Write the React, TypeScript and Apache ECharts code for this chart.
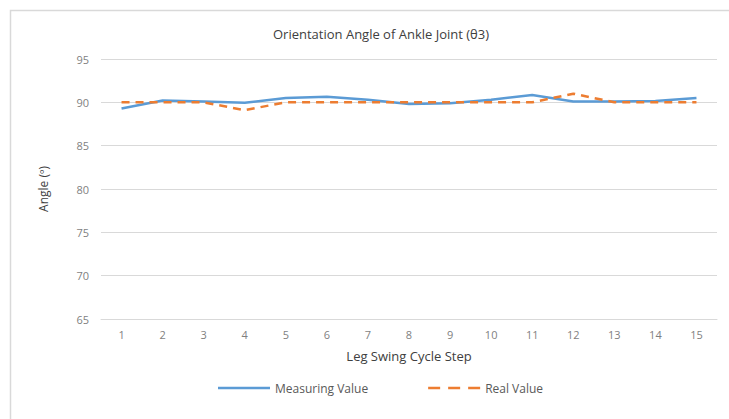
import React, { useEffect, useRef } from "react";
import * as echarts from "echarts";

const steps = ["1", "2", "3", "4", "5", "6", "7", "8", "9", "10", "11", "12", "13", "14", "15"];
const measuringValue = [89.3, 90.2, 90.1, 89.95, 90.5, 90.65, 90.3, 89.8, 89.9, 90.3, 90.85, 90.1, 90.1, 90.15, 90.5];
const realValue = [90, 90, 90, 89.1, 90, 90, 90, 90, 90, 90, 90, 91, 90, 90, 90];

const FONT = "'Open Sans', 'Noto Sans', sans-serif";

export default function App() {
  const ref = useRef<HTMLDivElement>(null);
  useEffect(() => {
    document.body.style.margin = "0";
    const chart = echarts.init(ref.current!, null, { renderer: "svg" });
    chart.setOption({
      animation: false,
      backgroundColor: "#ffffff",
      graphic: [
        {
          type: "rect",
          shape: { x: 10.5, y: 10.5, width: 740, height: 440 },
          style: { fill: "none", stroke: "#d9d9d9", lineWidth: 1.5 },
          silent: true,
        },
      ],
      title: {
        text: "Orientation Angle of Ankle Joint (θ3)",
        left: 376,
        textAlign: "center",
        top: 22,
        textStyle: { fontFamily: FONT, fontSize: 13, fontWeight: "normal", color: "#404040" },
      },
      grid: { left: 101, right: 12, top: 59, bottom: 100 },
      xAxis: {
        type: "category",
        data: steps,
        boundaryGap: true,
        name: "Leg Swing Cycle Step",
        nameLocation: "middle",
        nameGap: 30,
        nameTextStyle: { fontFamily: FONT, fontSize: 13, color: "#404040" },
        axisLine: { lineStyle: { color: "#d9d9d9", width: 1 } },
        axisTick: { show: false },
        axisLabel: { fontFamily: FONT, fontSize: 11, color: "#7f7f7f", margin: 10 },
      },
      yAxis: {
        type: "value",
        min: 65,
        max: 95,
        interval: 5,
        name: "Angle (º)",
        nameLocation: "middle",
        nameGap: 52,
        nameTextStyle: { fontFamily: FONT, fontSize: 12, color: "#404040" },
        axisLine: { show: false },
        axisTick: { show: false },
        splitLine: { lineStyle: { color: "#d9d9d9", width: 1 } },
        axisLabel: { fontFamily: FONT, fontSize: 11, color: "#7f7f7f", margin: 12 },
      },
      legend: {
        bottom: 20,
        left: 213,
        itemWidth: 52,
        itemHeight: 10,
        itemGap: 60,
        textStyle: { fontFamily: FONT, fontSize: 12, color: "#595959" },
        data: [
          {
            name: "Measuring Value",
            icon: "path://M0,4L52,4L52,6.5L0,6.5Z",
            itemStyle: { color: "#5B9BD5" },
          },
          {
            name: "Real Value",
            icon: "path://M0,4h12v2.5h-12z M20,4h12v2.5h-12z M40,4h12v2.5h-12z",
            itemStyle: { color: "#ED7D31" },
          },
        ],
      },
      series: [
        {
          name: "Measuring Value",
          type: "line",
          data: measuringValue,
          showSymbol: false,
          symbol: "none",
          lineStyle: { color: "#5B9BD5", width: 2.5 },
          itemStyle: { color: "#5B9BD5" },
          z: 2,
        },
        {
          name: "Real Value",
          type: "line",
          data: realValue,
          showSymbol: false,
          symbol: "none",
          lineStyle: { color: "#ED7D31", width: 2.5, type: [8, 6] },
          itemStyle: { color: "#ED7D31" },
          z: 3,
        },
      ],
    });
    return () => chart.dispose();
  }, []);
  return <div ref={ref} style={{ width: 729, height: 419 }} />;
}
